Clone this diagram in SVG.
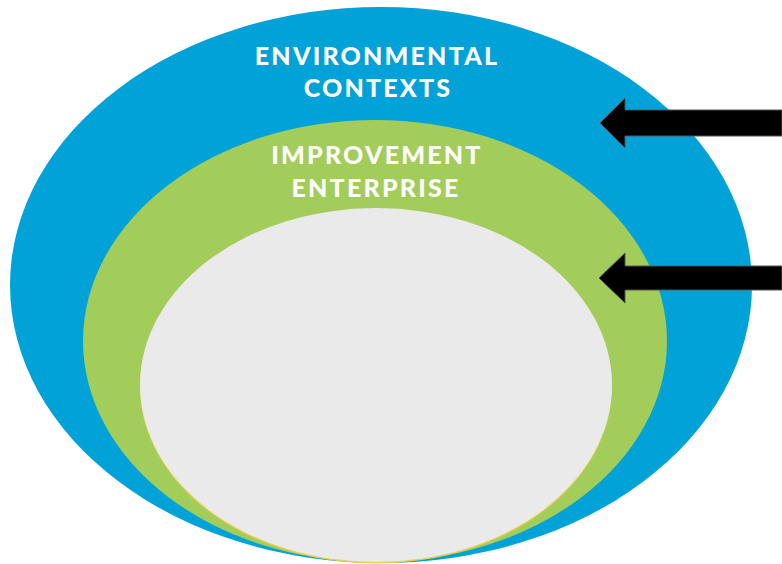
<svg xmlns="http://www.w3.org/2000/svg" width="782" height="564" viewBox="0 0 782 564">
<style>
.lbl{font-family:Lato,"Open Sans","DejaVu Sans",sans-serif;font-weight:900;fill:#ffffff;text-anchor:middle;font-size:25px;letter-spacing:2.2px}
.arr{fill:#000000;stroke:#555555;stroke-width:1}
</style>
<rect width="782" height="564" fill="#ffffff"/>
<g id="environmental-contexts">
<ellipse cx="381" cy="285" rx="371" ry="278" fill="#00A2D8"/>
<text class="lbl" x="377" y="65">ENVIRONMENTAL</text>
<text class="lbl" x="378" y="97">CONTEXTS</text>
</g>
<g id="improvement-enterprise">
<ellipse cx="375" cy="341" rx="292" ry="221" fill="#A2CD5A"/>
<text class="lbl" x="377" y="164">IMPROVEMENT</text>
<text class="lbl" x="376" y="197">ENTERPRISE</text>
</g>
<g id="core">
<ellipse cx="376" cy="386.5" rx="236" ry="177" fill="#E8CF50"/>
<ellipse cx="376" cy="385" rx="236" ry="177" fill="#EAEAEA"/>
</g>
<g id="connectors">
<polygon class="arr" points="782,110 625,110 625,98 600,123 625,148 625,136 782,136"/>
<polygon class="arr" points="782,266 625,266 625,253 599,278 625,303 625,290 782,290"/>
</g>
</svg>
